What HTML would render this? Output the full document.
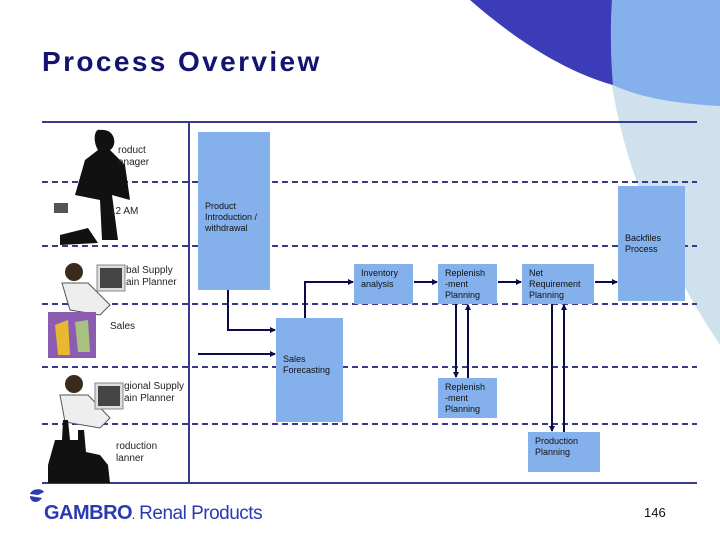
<!DOCTYPE html>
<html><head><meta charset="utf-8"><style>
html,body{margin:0;padding:0;background:#fff}
svg{display:block}
text{font-family:"Liberation Sans",sans-serif}
.b{font-size:9px;fill:#111}
.l{font-size:10px;fill:#222}
</style></head><body>
<svg width="720" height="540" viewBox="0 0 720 540" xmlns="http://www.w3.org/2000/svg">
<defs><marker id="a" markerWidth="6" markerHeight="6" refX="5" refY="3" orient="auto" markerUnits="userSpaceOnUse"><path d="M0,0 L6,3 L0,6 Z" fill="#0b0b4a"/></marker></defs>
<!-- decorations -->
<path d="M612,85 C622,150 650,240 720,345 L720,0 L612,0 Z" fill="#d0e1ee"/>
<path d="M612,0 L720,0 L720,106 C680,104 640,98 613,85 C611,60 610,30 612,0 Z" fill="#84b0ec"/>
<path d="M470,0 C510,35 560,70 613,85 C611,60 610,30 612,0 Z" fill="#3c3cb8"/>
<text x="42" y="71" font-size="28" font-weight="bold" fill="#141470" letter-spacing="2.4">Process Overview</text>
<!-- lines -->
<g stroke="#3a3a8c" stroke-width="2">
<line x1="42" y1="122" x2="697" y2="122"/>
<line x1="42" y1="483" x2="697" y2="483"/>
<line x1="189" y1="122" x2="189" y2="483"/>
</g>
<g stroke="#3a3a8c" stroke-width="2" stroke-dasharray="6,4">
<line x1="42" y1="182" x2="697" y2="182"/>
<line x1="42" y1="246" x2="697" y2="246"/>
<line x1="42" y1="304" x2="697" y2="304"/>
<line x1="42" y1="367" x2="697" y2="367"/>
<line x1="42" y1="424" x2="697" y2="424"/>
</g>
<!-- boxes -->
<g fill="#84b0ec">
<rect x="198" y="132" width="72" height="158"/>
<rect x="276" y="318" width="67" height="104"/>
<rect x="354" y="264" width="59" height="40"/>
<rect x="438" y="264" width="59" height="40"/>
<rect x="522" y="264" width="72" height="40"/>
<rect x="618" y="186" width="67" height="115"/>
<rect x="438" y="378" width="59" height="40"/>
<rect x="528" y="432" width="72" height="40"/>
</g>
<g class="b">
<text x="205" y="209">Product</text><text x="205" y="220">Introduction /</text><text x="205" y="231">withdrawal</text>
<text x="283" y="362">Sales</text><text x="283" y="373">Forecasting</text>
<text x="361" y="276">Inventory</text><text x="361" y="287">analysis</text>
<text x="445" y="276">Replenish</text><text x="445" y="287">-ment</text><text x="445" y="298">Planning</text>
<text x="529" y="276">Net</text><text x="529" y="287">Requirement</text><text x="529" y="298">Planning</text>
<text x="625" y="241">Backfiles</text><text x="625" y="252">Process</text>
<text x="445" y="390">Replenish</text><text x="445" y="401">-ment</text><text x="445" y="412">Planning</text>
<text x="535" y="444">Production</text><text x="535" y="455">Planning</text>
</g>
<!-- arrows -->
<g stroke="#0b0b4a" stroke-width="2" fill="none" marker-end="url(#a)">
<path d="M228,290 V330 H275"/>
<path d="M198,354 H275"/>
<path d="M305,318 V282 H353"/>
<path d="M414,282 H437"/>
<path d="M498,282 H521"/>
<path d="M595,282 H617"/>
<path d="M456,304 V377"/>
<path d="M468,378 V305"/>
<path d="M552,304 V431"/>
<path d="M564,432 V305"/>
</g>
<!-- clipart approximations -->
<g>
<path d="M100,130 C95,128 92,140 98,150 L85,160 L75,195 L100,200 L102,240 L118,240 L112,195 L130,200 L125,165 L110,150 C118,145 115,128 100,130 Z" fill="#111"/>
<path d="M60,235 L88,228 L98,243 L60,245 Z" fill="#111"/>
<rect x="54" y="203" width="14" height="10" fill="#555"/>
<circle cx="74" cy="272" r="9" fill="#3a2a1a"/>
<path d="M62,283 L88,283 L110,305 L100,315 L70,310 Z" fill="#eee" stroke="#555"/>
<rect x="97" y="265" width="28" height="26" fill="#ddd" stroke="#888"/><rect x="100" y="268" width="22" height="20" fill="#444"/>
<rect x="48" y="312" width="48" height="46" fill="#8c5cb0"/>
<path d="M55,325 L68,320 L70,355 L58,355 Z" fill="#e8b830"/><path d="M75,322 L88,320 L90,352 L78,352 Z" fill="#a8c080"/>
<circle cx="74" cy="384" r="9" fill="#3a2a1a"/>
<path d="M60,395 L88,395 L110,418 L100,428 L65,422 Z" fill="#eee" stroke="#555"/>
<rect x="95" y="383" width="28" height="26" fill="#ddd" stroke="#888"/><rect x="98" y="386" width="22" height="20" fill="#444"/>
<path d="M48,465 L55,440 L62,440 L63,420 L68,420 L70,440 L78,440 L78,430 L84,430 L86,452 L100,455 L108,465 L110,483 L48,483 Z" fill="#111"/>
</g>
<g class="l">
<text x="118" y="153">roduct</text><text x="118" y="165">anager</text>
<text x="110" y="214">12 AM</text>
<text x="126" y="273">bal Supply</text><text x="126" y="285">ain Planner</text>
<text x="110" y="329">Sales</text>
<text x="124" y="389">gional Supply</text><text x="124" y="401">ain Planner</text>
<text x="116" y="449">roduction</text><text x="116" y="461">lanner</text>
</g>
<!-- logo -->
<path d="M30,494 C32,488 42,488 44,492 L38,495 Z M30,496 L42,498 C38,504 30,503 30,496 Z" fill="#2a3ab0"/>
<text x="44" y="519" font-size="20" font-weight="bold" fill="#2a3ab0" letter-spacing="-0.5">GAMBRO<tspan font-size="10">.</tspan><tspan font-weight="normal" font-size="19"> Renal Products</tspan></text>
<text x="644" y="517" font-size="13" fill="#111">146</text>
</svg>
</body></html>
